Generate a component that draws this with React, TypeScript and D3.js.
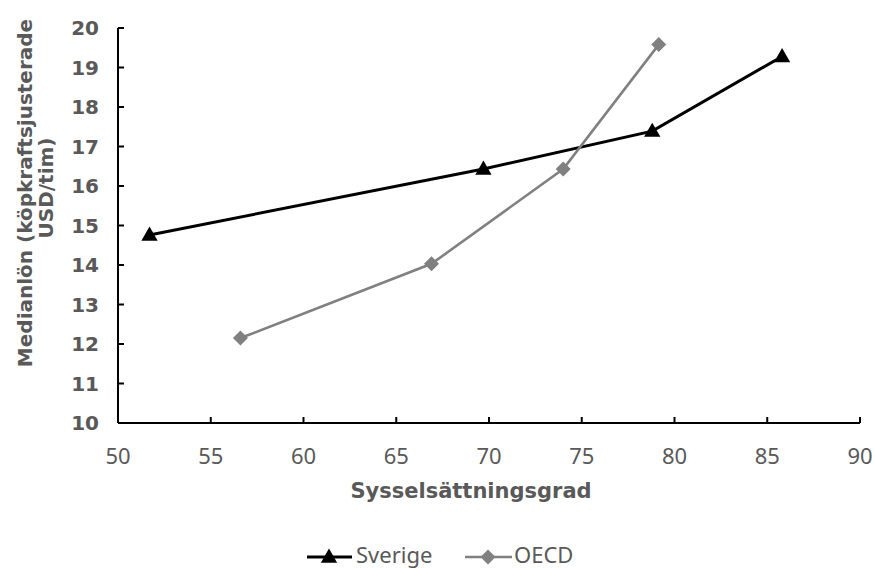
import React from "react";
import * as d3 from "d3";

const seriesNames = ["Sverige", "OECD"];
const sverigeX = [51.7, 69.7, 78.8, 85.8];
const sverigeY = [14.76, 16.43, 17.39, 19.28];
const oecdX = [56.6, 66.9, 74.0, 79.15];
const oecdY = [12.15, 14.03, 16.43, 19.58];
const xTicks = [50, 55, 60, 65, 70, 75, 80, 85, 90];
const yTicks = [10, 11, 12, 13, 14, 15, 16, 17, 18, 19, 20];
const xTitle = "Sysselsättningsgrad";
const yTitle1 = "Medianlön (köpkraftsjusterade";
const yTitle2 = "USD/tim)";

const W = 875, H = 568;
const left = 118, right = 860, top = 28, bottom = 423;
const textColor = "#595959";
const boldFont = "'DejaVu Sans', Verdana, sans-serif";
const lightFont = "'Noto Sans', 'Open Sans', sans-serif";

export default function App() {
  const x = d3.scaleLinear().domain([50, 90]).range([left, right]);
  const y = d3.scaleLinear().domain([10, 20]).range([bottom, top]);
  const line = d3.line<[number, number]>().x(d => x(d[0])).y(d => y(d[1]));
  const sv: [number, number][] = sverigeX.map((v, i) => [v, sverigeY[i]]);
  const oe: [number, number][] = oecdX.map((v, i) => [v, oecdY[i]]);
  const tri = d3.symbol().type(d3.symbolTriangle).size(115)()!;
  const dia = (s: number) => `M0,${-s}L${s},0L0,${s}L${-s},0Z`;

  return (
    <svg width={W} height={H} style={{ position: "absolute", left: 0, top: 0, background: "#fff" }}>
      {/* axes */}
      <line x1={left} x2={left} y1={top} y2={bottom} stroke="#000" strokeWidth={2} />
      <line x1={left} x2={right} y1={bottom} y2={bottom} stroke="#000" strokeWidth={2} />
      {yTicks.map(t => (
        <g key={"y" + t}>
          <line x1={left} x2={left + 6} y1={y(t)} y2={y(t)} stroke="#000" strokeWidth={2} />
          <text x={99} y={y(t)} dy="0.36em" textAnchor="end" fill={textColor}
            fontFamily={boldFont} fontWeight="bold" fontSize={20}>{t}</text>
        </g>
      ))}
      {xTicks.map(t => (
        <g key={"x" + t}>
          <line x1={x(t)} x2={x(t)} y1={bottom} y2={bottom - 6} stroke="#000" strokeWidth={2} />
          <text x={x(t)} y={464} textAnchor="middle" fill={textColor}
            fontFamily={lightFont} fontSize={22}>{t}</text>
        </g>
      ))}
      <text x={471} y={498} textAnchor="middle" fill={textColor} fontFamily={boldFont}
        fontWeight="bold" fontSize={21}>{xTitle}</text>
      <text transform="translate(32,193) rotate(-90)" x={0} y={0} textAnchor="middle" fill={textColor}
        fontFamily={boldFont} fontWeight="bold" fontSize={20}>{yTitle1}</text>
      <text transform="translate(53,188) rotate(-90)" x={0} y={0} textAnchor="middle" fill={textColor}
        fontFamily={boldFont} fontWeight="bold" fontSize={20}>{yTitle2}</text>

      {/* series */}
      <path d={line(sv)!} fill="none" stroke="#000" strokeWidth={3} />
      {sv.map((d, i) => (
        <path key={"s" + i} d={tri} transform={`translate(${x(d[0])},${y(d[1]) + 1})`} fill="#000" />
      ))}
      <path d={line(oe)!} fill="none" stroke="#808080" strokeWidth={2.6} />
      {oe.map((d, i) => (
        <path key={"o" + i} d={dia(7.5)} transform={`translate(${x(d[0])},${y(d[1])})`} fill="#808080" />
      ))}

      {/* legend */}
      <line x1={307} x2={352} y1={557} y2={557} stroke="#000" strokeWidth={3} />
      <path d={tri} transform="translate(329,558)" fill="#000" />
      <text x={356} y={563} fill={textColor} fontFamily={lightFont} fontSize={22}>{seriesNames[0]}</text>
      <line x1={465} x2={512} y1={557} y2={557} stroke="#808080" strokeWidth={2.6} />
      <path d={dia(7.5)} transform="translate(488,557)" fill="#808080" />
      <text x={514} y={563} fill={textColor} fontFamily={lightFont} fontSize={22}>{seriesNames[1]}</text>
    </svg>
  );
}
